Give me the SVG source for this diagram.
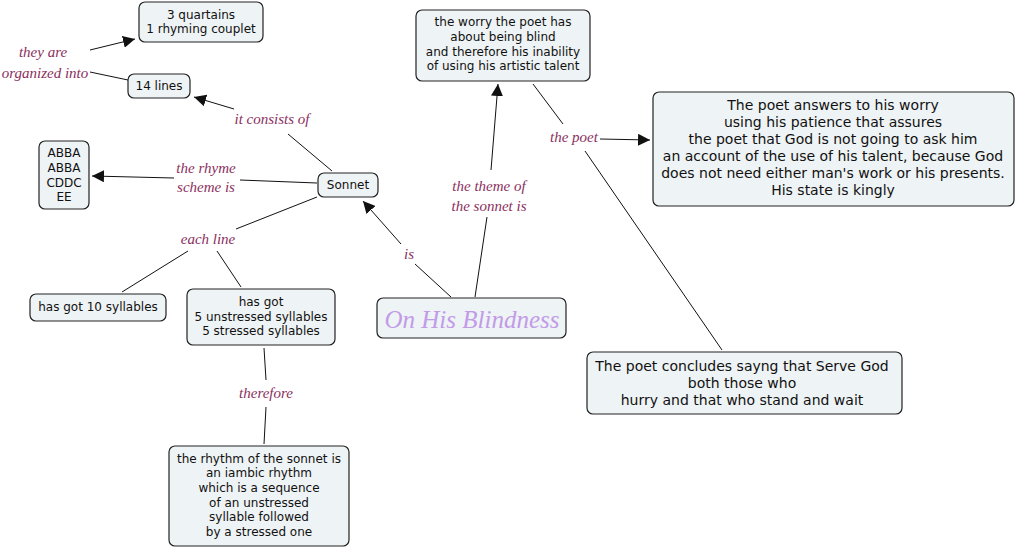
<svg xmlns="http://www.w3.org/2000/svg" width="1017" height="548" viewBox="0 0 1017 548">
<style>
.box{fill:#eef3f5;stroke:#222;stroke-width:1.2}
.t{font-family:"DejaVu Sans",Verdana,sans-serif;font-size:12px;fill:#111;text-anchor:middle}
.tb{font-family:"DejaVu Sans",Verdana,sans-serif;font-size:14px;fill:#111;text-anchor:middle}
.lbl{font-family:"Liberation Serif",serif;font-style:italic;font-size:15px;fill:#8b2f5e;text-anchor:middle}
.ln{stroke:#111;stroke-width:1;fill:none}
.ar{stroke:#111;stroke-width:1;fill:none;marker-end:url(#arr)}
</style>
<defs>
<marker id="arr" viewBox="0 0 10 10" refX="10" refY="5" markerWidth="12" markerHeight="12" markerUnits="userSpaceOnUse" orient="auto">
<path d="M0,0 L10,5 L0,10 z" fill="#111"/>
</marker>
</defs>
<rect width="1017" height="548" fill="#fff"/>
<g id="connectors">
<line class="ar" x1="90" y1="50" x2="135" y2="39"/>
<line class="ln" x1="128" y1="80" x2="90" y2="72"/>
<line class="ln" x1="332" y1="171" x2="288" y2="134"/>
<line class="ar" x1="234" y1="109" x2="194" y2="97"/>
<line class="ln" x1="317" y1="183" x2="240" y2="180"/>
<line class="ar" x1="174" y1="178" x2="92" y2="176"/>
<line class="ln" x1="317" y1="197" x2="236" y2="229"/>
<line class="ln" x1="188" y1="251" x2="122" y2="292"/>
<line class="ln" x1="217" y1="251" x2="241" y2="287"/>
<line class="ln" x1="264" y1="348" x2="266" y2="380"/>
<line class="ln" x1="266" y1="407" x2="264" y2="444"/>
<line class="ln" x1="451" y1="297" x2="415" y2="264"/>
<line class="ar" x1="401" y1="244" x2="363" y2="201"/>
<line class="ln" x1="475" y1="297" x2="487" y2="217"/>
<line class="ar" x1="491" y1="170" x2="498" y2="84"/>
<line class="ln" x1="533" y1="84" x2="563" y2="124"/>
<line class="ar" x1="600" y1="139" x2="650" y2="140"/>
<line class="ln" x1="585" y1="151" x2="722" y2="350"/>
</g>
<g id="labels">
<text class="lbl" x="43" y="57">they are</text>
<text class="lbl" x="45" y="78">organized into</text>
<text class="lbl" x="272" y="124">it consists of</text>
<text class="lbl" x="206" y="173">the rhyme</text>
<text class="lbl" x="206" y="192">scheme is</text>
<text class="lbl" x="208" y="244">each line</text>
<text class="lbl" x="266" y="398">therefore</text>
<text class="lbl" x="409" y="259">is</text>
<text class="lbl" x="489" y="191">the theme of</text>
<text class="lbl" x="489" y="211">the sonnet is</text>
<text class="lbl" x="574" y="142">the poet</text>
</g>
<g id="n-quartains">
<rect class="box" x="139" y="2" width="124" height="40" rx="6"/>
<text class="t" x="201" y="19">3 quartains</text>
<text class="t" x="201" y="33">1 rhyming couplet</text>
</g>
<g id="n-14lines">
<rect class="box" x="128" y="74" width="62" height="24" rx="6"/>
<text class="t" x="159" y="90">14 lines</text>
</g>
<g id="n-abba">
<rect class="box" x="39" y="141" width="50" height="68" rx="6"/>
<text class="t" x="64" y="157">ABBA</text>
<text class="t" x="64" y="172">ABBA</text>
<text class="t" x="64" y="187">CDDC</text>
<text class="t" x="64" y="201">EE</text>
</g>
<g id="n-sonnet">
<rect class="box" x="318" y="173" width="60" height="24" rx="6"/>
<text class="t" x="348" y="189">Sonnet</text>
</g>
<g id="n-10syll">
<rect class="box" x="30" y="294" width="136" height="27" rx="6"/>
<text class="t" x="98" y="311">has got 10 syllables</text>
</g>
<g id="n-hasgot">
<rect class="box" x="187" y="289" width="148" height="56" rx="6"/>
<text class="t" x="261" y="306">has got</text>
<text class="t" x="261" y="321">5 unstressed syllables</text>
<text class="t" x="261" y="335">5 stressed syllables</text>
</g>
<g id="n-rhythm">
<rect class="box" x="169" y="446" width="180" height="100" rx="6"/>
<text class="t" x="259" y="463">the rhythm of the sonnet is</text>
<text class="t" x="259" y="477">an iambic rhythm</text>
<text class="t" x="259" y="492">which is a sequence</text>
<text class="t" x="259" y="507">of an unstressed</text>
<text class="t" x="259" y="521">syllable followed</text>
<text class="t" x="259" y="536">by a stressed one</text>
</g>
<g id="n-title">
<rect class="box" x="377" y="298" width="189" height="40" rx="6"/>
<text x="472" y="328" style="font-family:'Liberation Serif',serif;font-style:italic;font-size:25px;fill:#c29be8;text-anchor:middle">On His Blindness</text>
</g>
<g id="n-worry">
<rect class="box" x="416" y="10" width="174" height="71" rx="6"/>
<text class="t" x="503" y="26">the worry the poet has</text>
<text class="t" x="503" y="41">about being blind</text>
<text class="t" x="503" y="56">and therefore his inability</text>
<text class="t" x="503" y="70">of using his artistic talent</text>
</g>
<g id="n-answers">
<rect class="box" x="653" y="92" width="361" height="114" rx="6"/>
<text class="tb" x="833" y="110">The poet answers to his worry</text>
<text class="tb" x="833" y="127">using his patience that assures</text>
<text class="tb" x="833" y="144">the poet that God is not going to ask him</text>
<text class="tb" x="833" y="161">an account of the use of his talent, because God</text>
<text class="tb" x="833" y="178">does not need either man's work or his presents.</text>
<text class="tb" x="833" y="195">His state is kingly</text>
</g>
<g id="n-concludes">
<rect class="box" x="587" y="352" width="315" height="62" rx="6"/>
<text class="tb" x="742" y="371">The poet concludes sayng that Serve God</text>
<text class="tb" x="742" y="388">both those who</text>
<text class="tb" x="742" y="405">hurry and that who stand and wait</text>
</g>
</svg>
